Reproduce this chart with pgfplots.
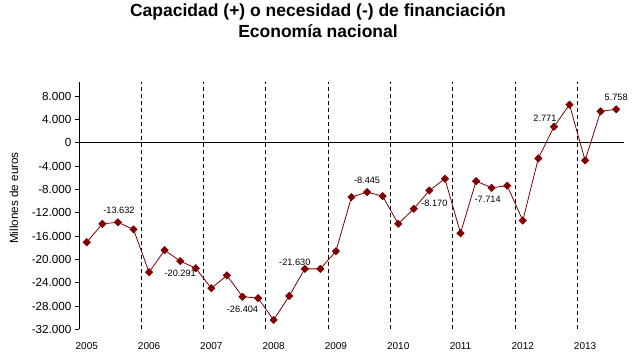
\documentclass[border=0pt]{standalone}
\usepackage{fontspec}
\setmainfont{Liberation Sans}
\usepackage{pgfplots}
\pgfplotsset{compat=1.18}
\definecolor{serie}{HTML}{800000}
\begin{document}
\begin{tikzpicture}
\path (0pt,0pt) rectangle (636pt,356pt);
\node[font=\fontsize{17.5}{19}\selectfont\bfseries] at (318pt,344pt) {Capacidad (+) o necesidad (-) de financiación};
\node[font=\fontsize{17.5}{19}\selectfont\bfseries] at (318pt,325pt) {Economía nacional};
\node[rotate=90, font=\fontsize{11.7}{13}\selectfont] at (14pt,158pt) {Millones de euros};
\begin{axis}[
  at={(79pt,26.7pt)}, anchor=south west,
  scale only axis, width=545pt, height=247.6pt,
  xmin=-0.5, xmax=34.5, ymin=-32000, ymax=10500,
  clip=false, scaled y ticks=false, scaled x ticks=false,
  axis y line*=left, axis x line*=bottom,
  x axis line style={draw=none},
  y axis line style={black, line width=0.8pt},
  xtick={0,4,8,12,16,20,24,28,32},
  xticklabels={2005,2006,2007,2008,2009,2010,2011,2012,2013},
  xtick style={draw=none},
  xticklabel style={font=\fontsize{10}{12}\selectfont, yshift=-6pt},
  ytick={-32000,-28000,-24000,-20000,-16000,-12000,-8000,-4000,0,4000,8000},
  yticklabels={-32.000,-28.000,-24.000,-20.000,-16.000,-12.000,-8.000,-4.000,0,4.000,8.000},
  yticklabel style={font=\fontsize{11.7}{13}\selectfont},
  ytick style={black, line width=0.8pt},
  tick align=outside, major tick length=4pt,
  extra x ticks={3.5,7.5,11.5,15.5,19.5,23.5,27.5,31.5},
  extra x tick labels={},
  extra x tick style={grid=major, major grid style={black, line width=0.8pt, dash pattern=on 4pt off 3pt}, tick style={draw=none}},
  extra y ticks={0}, extra y tick labels={},
  extra y tick style={grid=major, major grid style={black, line width=0.8pt}},
]
\addplot[color=serie, line width=0.8pt, mark=square*, mark size=2.5pt, mark options={rotate=45, fill=serie, draw=serie}] coordinates {
(0,-17050) (1,-13900) (2,-13632) (3,-14850)
(4,-22200) (5,-18420) (6,-20291) (7,-21520)
(8,-24950) (9,-22750) (10,-26404) (11,-26650)
(12,-30400) (13,-26280) (14,-21630) (15,-21630)
(16,-18590) (17,-9310) (18,-8445) (19,-9140)
(20,-13900) (21,-11320) (22,-8170) (23,-6160)
(24,-15500) (25,-6560) (26,-7714) (27,-7340)
(28,-13330) (29,-2670) (30,2771) (31,6560)
(32,-3010) (33,5410) (34,5758)
};
\begin{scope}[every node/.style={font=\fontsize{9.2}{11}\selectfont, inner sep=0pt}]
\node[xshift=1pt, yshift=12pt] at (axis cs:2,-13632) {-13.632};
\node[yshift=-12pt] at (axis cs:6,-20291) {-20.291};
\node[yshift=-13pt] at (axis cs:10,-26404) {-26.404};
\node[xshift=-10pt, yshift=7pt] at (axis cs:14,-21630) {-21.630};
\node[yshift=12pt] at (axis cs:18,-8445) {-8.445};
\node[xshift=5pt, yshift=-13pt] at (axis cs:22,-8170) {-8.170};
\node[xshift=-4pt, yshift=-12pt] at (axis cs:26,-7714) {-7.714};
\node[xshift=-9pt, yshift=8pt] at (axis cs:30,2771) {2.771};
\node[yshift=11.5pt] at (axis cs:34,5758) {5.758};
\end{scope}
\end{axis}
\end{tikzpicture}
\end{document}
